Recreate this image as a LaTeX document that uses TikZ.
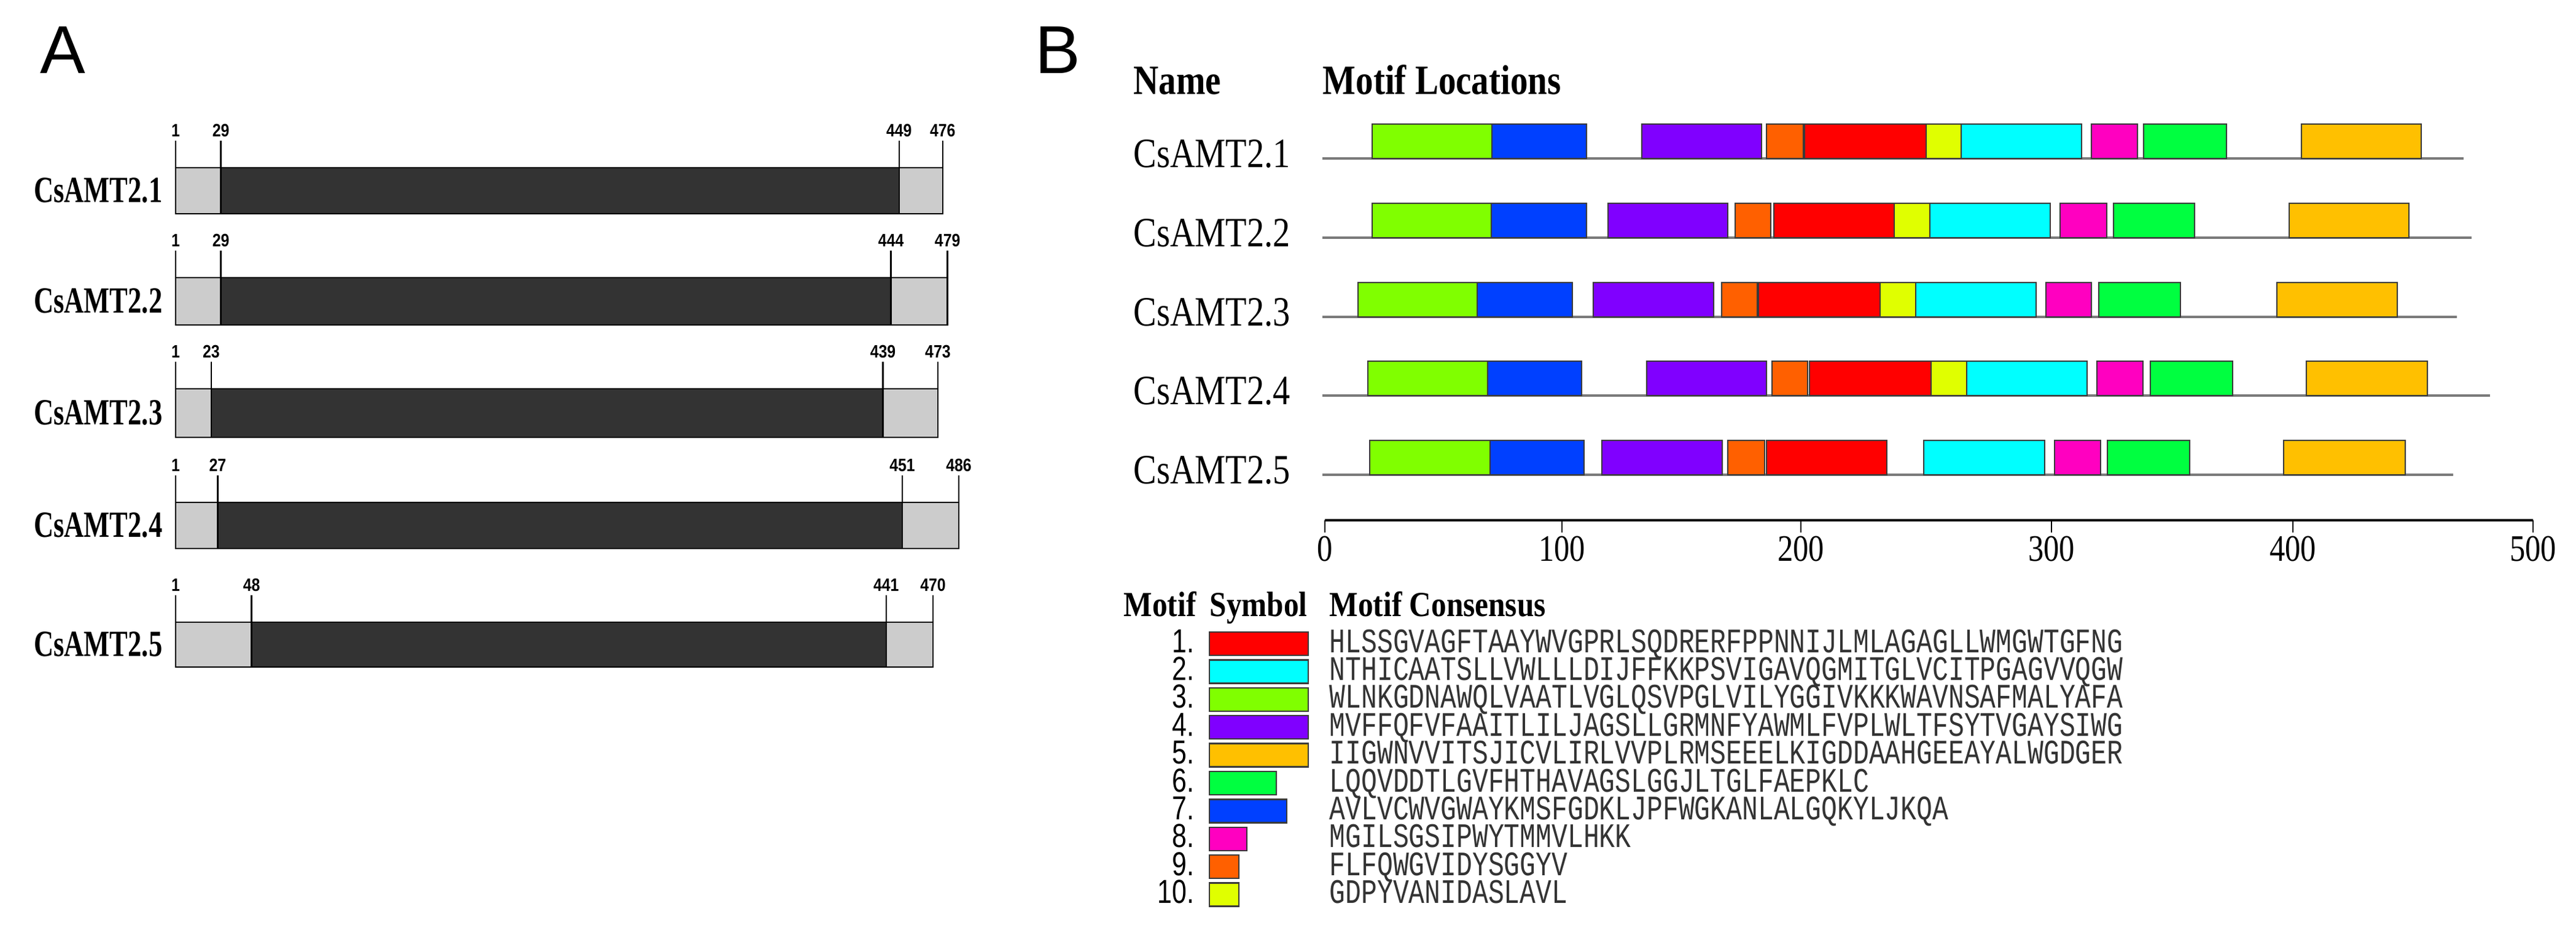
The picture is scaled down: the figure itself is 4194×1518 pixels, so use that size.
\documentclass[tikz,border=0pt]{standalone}
\usepackage{fontspec}
\usepackage{graphicx}
\setmainfont{Liberation Serif}
\newfontfamily\sansf{Liberation Sans}
\newfontfamily\monof{Liberation Mono}
\newcommand\ftxt[4]{{#1\fontsize{#2}{#2}\selectfont\scalebox{#3}[1]{#4}}}
\definecolor{m1}{HTML}{FF0000}
\definecolor{m2}{HTML}{00FFFF}
\definecolor{m3}{HTML}{80FF00}
\definecolor{m4}{HTML}{8000FF}
\definecolor{m5}{HTML}{FFC000}
\definecolor{m6}{HTML}{00FF40}
\definecolor{m7}{HTML}{0040FF}
\definecolor{m8}{HTML}{FF00C0}
\definecolor{m9}{HTML}{FF6000}
\definecolor{m10}{HTML}{E0FF00}
\definecolor{lgrey}{HTML}{CCCCCC}
\definecolor{dgrey}{HTML}{333333}
\definecolor{seqgrey}{HTML}{7A7A7A}
\definecolor{edge}{HTML}{3A3A3A}
\newcommand\motrow[3]{%
  \draw[seqline] (2153,#1) -- (#2,#1);
  \foreach \c/\a/\b in {#3} \draw[motif,fill=\c] (\a,#1-56) rectangle (\b,#1);
}
\begin{document}
\begin{tikzpicture}[x=0.01cm,y=-0.01cm,
  bartext/.style={inner sep=0pt},
  seqline/.style={draw=seqgrey,line width=1.1pt},
  motif/.style={draw=edge,line width=0.55pt},
  legbox/.style={draw=edge,line width=0.7pt},
  protbox/.style={draw=black,line width=0.7pt},
  tickA/.style={draw=black,line width=0.7pt}]
\useasboundingbox (0,0) rectangle (4194,1518);
\fill[white] (0,0) rectangle (4194,1518);

% ---------- Panel A ----------
\node[bartext] (labA) at (102,82) {\ftxt{\sansf}{31.4pt}{1}{A}};
\foreach \i/\nm/\yt/\yb/\s/\e/\L in {1/2.1/273/348/29/449/476, 2/2.2/452/529/29/444/479, 3/2.3/633/712/23/439/473, 4/2.4/818/893/27/451/486, 5/2.5/1013/1086/48/441/470}{
  \pgfmathsetmacro\xs{286+(\s-1)*2.629}
  \pgfmathsetmacro\xe{286+(\e-1)*2.629}
  \pgfmathsetmacro\xL{286+(\L-1)*2.629}
  \pgfmathsetmacro\ym{(\yt+\yb)/2}
  \fill[lgrey] (286,\yt) rectangle (\xs,\yb);
  \fill[dgrey] (\xs,\yt) rectangle (\xe,\yb);
  \fill[lgrey] (\xe,\yt) rectangle (\xL,\yb);
  \draw[protbox] (286,\yt) rectangle (\xL,\yb);
  \draw[tickA] (286,\yt-44) -- (286,\yt);
  \draw[tickA] (\xs,\yt-44) -- (\xs,\yb);
  \draw[tickA] (\xe,\yt-44) -- (\xe,\yb);
  \draw[tickA] (\xL,\yt-44) -- (\xL,\yt);
  \node[bartext,anchor=base] (a1\i) at (286,\yt-51) {\ftxt{\sansf\bfseries}{8.3pt}{0.85}{1}};
  \node[bartext,anchor=base] (as\i) at (\xs,\yt-51) {\ftxt{\sansf\bfseries}{8.3pt}{0.85}{\s}};
  \node[bartext,anchor=base] (ae\i) at (\xe,\yt-51) {\ftxt{\sansf\bfseries}{8.3pt}{0.85}{\e}};
  \node[bartext,anchor=base] (aL\i) at (\xL,\yt-51) {\ftxt{\sansf\bfseries}{8.3pt}{0.85}{\L}};
  \node[bartext,anchor=east] (an\i) at (265,\ym) {\ftxt{\bfseries}{17.1pt}{0.74}{CsAMT\nm}};
}

% ---------- Panel B ----------
\node[bartext] (labB) at (1722,82) {\ftxt{\sansf}{31.4pt}{1}{B}};
\node[bartext,anchor=base west] (hname) at (1845,153) {\ftxt{\bfseries}{19.3pt}{0.84}{Name}};
\node[bartext,anchor=base west] (hloc) at (2153,153) {\ftxt{\bfseries}{19.3pt}{0.84}{Motif Locations}};

\motrow{258}{4011}{m3/2234/2429, m7/2429/2583, m4/2673/2868, m9/2876/2936, m1/2938/3136, m10/3136/3193, m2/3193/3389, m8/3405/3480, m6/3490/3625, m5/3747/3942}
\motrow{387}{4024}{m3/2234/2428, m7/2428/2583, m4/2618/2813, m9/2825/2883, m1/2888/3084, m10/3084/3142, m2/3142/3338, m8/3354/3430, m6/3441/3573, m5/3727/3922}
\motrow{516}{4000}{m3/2211/2405, m7/2405/2560, m4/2594/2790, m9/2803/2861, m1/2863/3061, m10/3061/3119, m2/3119/3315, m8/3331/3405, m6/3417/3550, m5/3707/3903}
\motrow{644}{4054}{m3/2227/2422, m7/2422/2575, m4/2681/2876, m9/2885/2943, m1/2946/3144, m10/3144/3202, m2/3202/3398, m8/3414/3489, m6/3501/3635, m5/3755/3952}
\motrow{773}{3994}{m3/2230/2426, m7/2426/2579, m4/2608/2804, m9/2813/2873, m1/2876/3072, m2/3132/3329, m8/3345/3420, m6/3431/3565, m5/3718/3916}

\foreach \i/\yl in {1/258,2/387,3/516,4/644,5/773}{
  \node[bartext,anchor=base west] (bn\i) at (1845,\yl+14) {\ftxt{}{19.3pt}{0.83}{CsAMT2.\i}};
}

% axis
\draw[black,line width=1.4pt] (2157,847) -- (4124,847);
\foreach \k/\xx in {0/2157,100/2543,200/2932,300/3340,400/3733,500/4124}{
  \draw[black,line width=0.8pt] (\xx,847) -- (\xx,867);
  \node[bartext,anchor=base] (ax\k) at (\xx,913) {\ftxt{}{17.3pt}{0.83}{\k}};
}

% legend
\node[bartext,anchor=base west] (lh1) at (1829,1003) {\ftxt{\bfseries}{16.3pt}{0.86}{Motif}};
\node[bartext,anchor=base west] (lh2) at (1969,1003) {\ftxt{\bfseries}{16.3pt}{0.86}{Symbol}};
\node[bartext,anchor=base west] (lh3) at (2164,1003) {\ftxt{\bfseries}{16.3pt}{0.86}{Motif Consensus}};
\foreach \i/\c/\w/\sq in {
 1/m1/161/HLSSGVAGFTAAYWVGPRLSQDRERFPPNNIJLMLAGAGLLWMGWTGFNG,
 2/m2/161/NTHICAATSLLVWLLLDIJFFKKPSVIGAVQGMITGLVCITPGAGVVQGW,
 3/m3/161/WLNKGDNAWQLVAATLVGLQSVPGLVILYGGIVKKKWAVNSAFMALYAFA,
 4/m4/161/MVFFQFVFAAITLILJAGSLLGRMNFYAWMLFVPLWLTFSYTVGAYSIWG,
 5/m5/161/IIGWNVVITSJICVLIRLVVPLRMSEEELKIGDDAAHGEEAYALWGDGER,
 6/m6/109/LQQVDDTLGVFHTHAVAGSLGGJLTGLFAEPKLC,
 7/m7/126/AVLVCWVGWAYKMSFGDKLJPFWGKANLALGQKYLJKQA,
 8/m8/61/MGILSGSIPWYTMMVLHKK,
 9/m9/48/FLFQWGVIDYSGGYV,
 10/m10/48/GDPYVANIDASLAVL}{
  \pgfmathsetmacro\yb{1062+(\i-1)*45.4}
  \pgfmathsetmacro\yt{1029+(\i-1)*45.4}
  \node[bartext,anchor=base east] (ln\i) at (1945,\yb) {\ftxt{\sansf}{15.4pt}{0.79}{\i.}};
  \draw[legbox,fill=\c] (1969,\yt) rectangle (1969+\w,\yt+38);
  \node[bartext,anchor=base west] (ls\i) at (2164,\yb) {\ftxt{\monof\color{black!80}}{15.9pt}{0.77}{\sq}};
}
\end{tikzpicture}
\end{document}
